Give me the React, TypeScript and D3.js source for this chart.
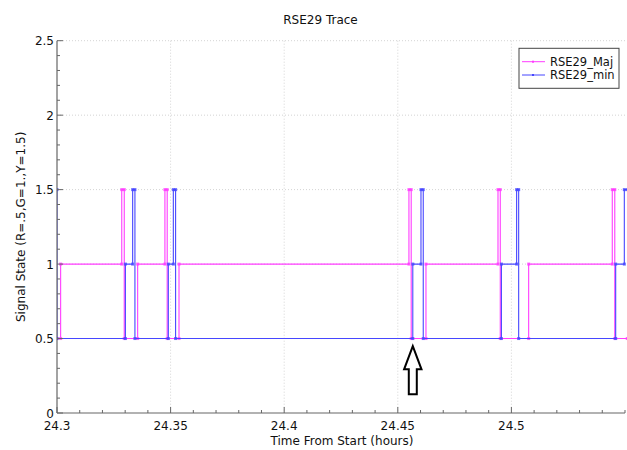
import React from "react";
import * as d3 from "d3";

// Signal trace transitions: each value holds from its time until the next time.
const majTimes = [24.3, 24.3016, 24.3285, 24.3296, 24.3355, 24.3475, 24.3485, 24.3537, 24.4549, 24.4559, 24.4624, 24.4941, 24.4951, 24.5076, 24.5444, 24.5455, 24.551];
const majValues = [0.5, 1, 1.5, 0.5, 1, 1.5, 0.5, 1, 1.5, 0.5, 1, 1.5, 0.5, 1, 1.5, 0.5, 0.5];

const minTimes = [24.2995, 24.3, 24.3301, 24.3333, 24.3343, 24.349, 24.3512, 24.3522, 24.4566, 24.4602, 24.4612, 24.4956, 24.5023, 24.5032, 24.5459, 24.5497, 24.551];
const minValues = [1.5, 0.5, 1, 1.5, 0.5, 1, 1.5, 0.5, 1, 1.5, 0.5, 1, 1.5, 0.5, 1, 1.5, 1.5];

const seriesNames = ["RSE29_Maj", "RSE29_min"];
const seriesColors = ["#ff3cff", "#4646ff"];

const xTicks = [24.3, 24.35, 24.4, 24.45, 24.5];
const yTicks = [0, 0.5, 1, 1.5, 2, 2.5];

// Event of interest marked with an arrow
const eventTime = 24.4566;

const W = 627;
const H = 450;
const margin = { left: 57, right: 2, top: 40.7, bottom: 37 };

const FONT = "DejaVu Sans, Verdana, sans-serif";

export default function App() {
  const x = d3.scaleLinear().domain([24.3, 24.55]).range([margin.left, W - margin.right]);
  const y = d3.scaleLinear().domain([0, 2.5]).range([H - margin.bottom, margin.top]);
  const [x0, x1] = x.range();
  const [yb, yt] = y.range();

  const series = [
    { times: majTimes, values: majValues },
    { times: minTimes, values: minValues },
  ];

  const line = d3
    .line<[number, number]>()
    .x((d) => x(d[0]))
    .y((d) => y(d[1]))
    .curve(d3.curveStepAfter);

  const vertices = (times: number[], values: number[]) => {
    const pts: [number, number][] = [[times[0], values[0]]];
    for (let i = 1; i < times.length; i++) {
      if (values[i] !== values[i - 1]) pts.push([times[i], values[i - 1]]);
      pts.push([times[i], values[i]]);
    }
    return pts;
  };

  const xMinor = d3.range(24.3, 24.5501, 0.01).map((v) => +v.toFixed(3));
  const yMinor = d3.range(0, 2.501, 0.1).map((v) => +v.toFixed(2));

  const ax = x(eventTime);
  const tipY = y(0.5) + 7.5;
  const arrowPath = [
    [ax, tipY],
    [ax + 8.7, tipY + 23.3],
    [ax + 4, tipY + 23.3],
    [ax + 4, tipY + 48.3],
    [ax - 4, tipY + 48.3],
    [ax - 4, tipY + 23.3],
    [ax - 8.7, tipY + 23.3],
  ]
    .map((p, i) => (i === 0 ? "M" : "L") + p[0] + "," + p[1])
    .join("") + "Z";

  return (
    <svg
      width={W}
      height={H}
      style={{ position: "absolute", left: 0, top: 0, background: "#fff" }}
      fontFamily={FONT}
    >
      <defs>
        <clipPath id="plot-clip">
          <rect x={x0} y={yt - 2} width={x1 - x0 + 2} height={yb - yt + 4} />
        </clipPath>
      </defs>

      {/* grid */}
      {xTicks.slice(1).map((t) => (
        <line key={"gx" + t} x1={x(t)} x2={x(t)} y1={yt} y2={yb} stroke="#d4d4d4" strokeDasharray="1,2" />
      ))}
      {yTicks.slice(1).map((t) => (
        <line key={"gy" + t} x1={x0} x2={x1} y1={y(t)} y2={y(t)} stroke="#d4d4d4" strokeDasharray="1,2" />
      ))}

      {/* traces */}
      <g clipPath="url(#plot-clip)">
        {series.map((s, i) => {
          const pts = s.times.map((t, j) => [t, s.values[j]] as [number, number]);
          return (
            <g key={i}>
              <path d={line(pts) || ""} fill="none" stroke={seriesColors[i]} strokeWidth={1.1} />
              {vertices(s.times, s.values).map((p, k) => (
                <rect
                  key={k}
                  x={x(p[0]) - 1.5}
                  y={y(p[1]) - 1.5}
                  width={3}
                  height={3}
                  fill={seriesColors[i]}
                  opacity={0.8}
                />
              ))}
            </g>
          );
        })}
      </g>

      {/* axes */}
      <line x1={x0} x2={x1} y1={yb} y2={yb} stroke="#666" strokeWidth={1.2} />
      <line x1={x0} x2={x0} y1={yt} y2={yb} stroke="#666" strokeWidth={1.2} />
      {xMinor.map((t) => {
        const major = xTicks.some((m) => Math.abs(m - t) < 1e-6);
        return <line key={"tx" + t} x1={x(t)} x2={x(t)} y1={yb} y2={yb - (major ? 6 : 3)} stroke="#666" />;
      })}
      {yMinor.map((t) => {
        const major = yTicks.some((m) => Math.abs(m - t) < 1e-6);
        return <line key={"ty" + t} x1={x0} x2={x0 + (major ? 6 : 3)} y1={y(t)} y2={y(t)} stroke="#666" />;
      })}
      {xTicks.map((t) => (
        <text key={"lx" + t} x={x(t)} y={yb + 17} textAnchor="middle" fontSize={12} fill="#111">
          {String(t)}
        </text>
      ))}
      {yTicks.map((t) => (
        <text key={"ly" + t} x={x0 - 3} y={y(t) + 4.5} textAnchor="end" fontSize={12} fill="#111">
          {String(t)}
        </text>
      ))}

      {/* titles */}
      <text x={320.5} y={24} textAnchor="middle" fontSize={12} fill="#111">
        RSE29 Trace
      </text>
      <text x={(x0 + x1) / 2 + 1} y={445} textAnchor="middle" fontSize={12} fill="#111">
        Time From Start (hours)
      </text>
      <text
        transform={`translate(25,${(yt + yb) / 2}) rotate(-90)`}
        textAnchor="middle"
        fontSize={12}
        fill="#111"
      >
        Signal State (R=.5,G=1.,Y=1.5)
      </text>

      {/* legend */}
      <rect x={519} y={48.3} width={100} height={40} fill="#fff" stroke="#444" strokeWidth={1} />
      {seriesNames.map((name, i) => {
        const ly = 61.7 + i * 13.3;
        return (
          <g key={name}>
            <line x1={522} x2={545} y1={ly} y2={ly} stroke={seriesColors[i]} strokeWidth={1} />
            <rect x={532} y={ly - 1} width={2} height={2} fill={seriesColors[i]} />
            <text x={550} y={ly + 4.3} fontSize={11.5} fill="#111">
              {name}
            </text>
          </g>
        );
      })}

      {/* event arrow */}
      <path d={arrowPath} fill="#fff" stroke="#000" strokeWidth={2} strokeLinejoin="miter" />
    </svg>
  );
}
